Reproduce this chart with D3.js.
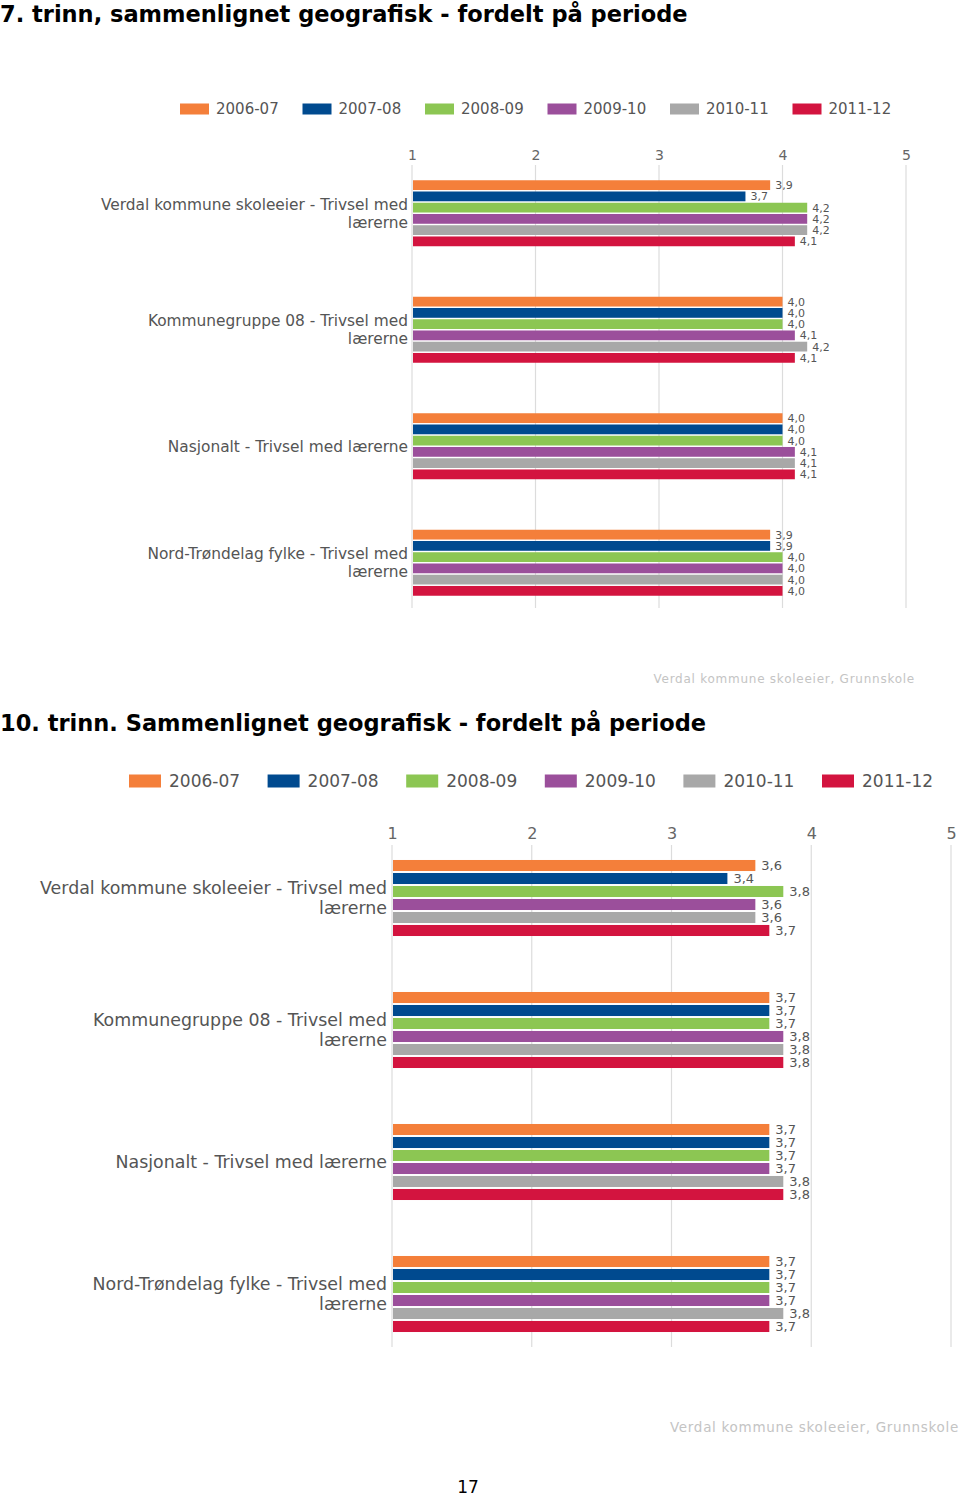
<!DOCTYPE html>
<html><head><meta charset="utf-8">
<script src="https://cdn.jsdelivr.net/npm/d3@7"></script>
<style>
html,body{margin:0;padding:0;background:#fff;}
svg{display:block;}
</style></head>
<body>
<svg id="c" width="960" height="1496"></svg>
<script>
// ---- data ----
const periods = ["2006-07","2007-08","2008-09","2009-10","2010-11","2011-12"];
const colors = ["#f47f3a","#004a8f","#8cc653","#9b4f9b","#a8a8a8","#d3143f"];
const categories = [
  "Verdal kommune skoleeier - Trivsel med\nlærerne",
  "Kommunegruppe 08 - Trivsel med\nlærerne",
  "Nasjonalt - Trivsel med lærerne",
  "Nord-Trøndelag fylke - Trivsel med\nlærerne"
];
const ticks = [1,2,3,4,5];
// 7. trinn values [category][period]
const values7 = [
  [3.9,3.7,4.2,4.2,4.2,4.1],
  [4.0,4.0,4.0,4.1,4.2,4.1],
  [4.0,4.0,4.0,4.1,4.1,4.1],
  [3.9,3.9,4.0,4.0,4.0,4.0]
];
// 10. trinn values
const values10 = [
  [3.6,3.4,3.8,3.6,3.6,3.7],
  [3.7,3.7,3.7,3.8,3.8,3.8],
  [3.7,3.7,3.7,3.7,3.8,3.8],
  [3.7,3.7,3.7,3.7,3.8,3.7]
];
const titles = ["7. trinn, sammenlignet geografisk - fordelt på periode",
                "10. trinn. Sammenlignet geografisk - fordelt på periode"];
const sourceText = "Verdal kommune skoleeier, Grunnskole";
const pageNumber = "17";

const svg = d3.select("#c");
const FONT = "'DejaVu Sans', Verdana, sans-serif";
const fmt = v => d3.format(".1f")(v).replace(".", ",");

function drawChart(cfg, values){
  const g = svg.append("g");
  // title
  g.append("text").attr("x", cfg.titleX).attr("y", cfg.titleY)
    .attr("font-family", FONT).attr("font-weight","bold")
    .attr("font-size", cfg.titleSize).attr("fill","#000").text(cfg.title);

  // legend
  const leg = g.append("g");
  periods.forEach((p,i)=>{
    const lx = cfg.legX + i*cfg.legStep;
    leg.append("rect").attr("x",lx).attr("y",cfg.legY - cfg.swH/2)
      .attr("width",cfg.swW).attr("height",cfg.swH).attr("fill",colors[i]);
    leg.append("text").attr("x",lx+cfg.swW+cfg.legGap).attr("y",cfg.legY)
      .attr("dy","0.36em").attr("font-family",FONT).attr("font-size",cfg.legSize)
      .attr("fill","#555").text(p);
  });

  const x = d3.scaleLinear().domain([1,5]).range([cfg.x1, cfg.x5]);
  const y = d3.scaleBand().domain(d3.range(categories.length))
    .range([cfg.yTop, cfg.yBot]).paddingInner(cfg.pad).paddingOuter(cfg.pad/2);
  const yi = d3.scaleBand().domain(d3.range(periods.length))
    .range([0, y.bandwidth()]).paddingInner(cfg.innerPad);

  // grid
  g.append("g").selectAll("line").data(ticks).join("line")
    .attr("x1",d=>x(d)).attr("x2",d=>x(d))
    .attr("y1",cfg.gridTop).attr("y2",cfg.gridBot)
    .attr("stroke","#dcdcdc").attr("stroke-width",1.2);

  // top axis
  const ax = g.append("g").attr("transform",`translate(0,${cfg.tickY})`)
    .call(d3.axisTop(x).tickValues(ticks).tickSize(0).tickPadding(0).tickFormat(d3.format("d")));
  ax.select(".domain").remove();
  ax.selectAll("text").attr("font-family",FONT).attr("font-size",cfg.tickSize)
    .attr("fill","#666").attr("dy","0.36em");

  // bars
  categories.forEach((c,ci)=>{
    const gg = g.append("g").attr("transform",`translate(0,${y(ci)})`);
    gg.selectAll("rect").data(values[ci]).join("rect")
      .attr("x",x(1)+1).attr("y",(d,i)=>yi(i))
      .attr("width",d=>x(d)-x(1)-1).attr("height",yi.bandwidth())
      .attr("fill",(d,i)=>colors[i]);
    gg.selectAll("text").data(values[ci]).join("text")
      .attr("x",d=>x(d)+cfg.valGap).attr("y",(d,i)=>yi(i)+yi.bandwidth()/2)
      .attr("dy","0.36em").attr("font-family",FONT).attr("font-size",cfg.valSize)
      .attr("fill","#555").text(fmt);
    // category label
    const lines = c.split("\n");
    const cy = y(ci) + y.bandwidth()/2;
    const t = g.append("text").attr("font-family",FONT).attr("font-size",cfg.catSize)
      .attr("fill","#555").attr("text-anchor","end");
    lines.forEach((ln,li)=>{
      t.append("tspan").attr("x",cfg.catX)
        .attr("y", cy + (li - (lines.length-1)/2)*cfg.lineH)
        .attr("dy","0.36em").text(ln);
    });
  });

  // source
  g.append("text").attr("x",cfg.srcX).attr("y",cfg.srcY).attr("dy","0.36em")
    .attr("text-anchor","end")
    .attr("font-family",FONT).attr("font-size",cfg.srcSize).attr("fill","#c4c4c4")
    .attr("letter-spacing",cfg.srcLS).text(sourceText);
}

drawChart({
  title: titles[0], titleX:0, titleY:22, titleSize:22.5,
  legX:180, legY:109, legStep:122.5, swW:29, swH:11, legGap:7, legSize:15,
  x1:412, x5:906, yTop:155, yBot:621, pad:0.4335, innerPad:0.13,
  gridTop:165, gridBot:608, tickY:155, tickSize:14,
  valGap:5, valSize:11, catX:408, catSize:15.4, lineH:18,
  srcX:915, srcY:679, srcSize:12, srcLS:0.75
}, values7);

drawChart({
  title: titles[1], titleX:0, titleY:731, titleSize:22.5,
  legX:129, legY:781, legStep:138.6, swW:32, swH:13, legGap:8, legSize:17,
  x1:392, x5:951, yTop:832, yBot:1360, pad:0.424, innerPad:0.15,
  gridTop:845, gridBot:1347, tickY:833, tickSize:16,
  valGap:6, valSize:13, catX:387, catSize:17.4, lineH:20,
  srcX:959, srcY:1427, srcSize:13.5, srcLS:0.7
}, values10);

svg.append("text").attr("x",468).attr("y",1487).attr("dy","0.36em")
  .attr("text-anchor","middle").attr("font-family",FONT).attr("font-size",17)
  .attr("fill","#000").text(pageNumber);
</script>
</body></html>
